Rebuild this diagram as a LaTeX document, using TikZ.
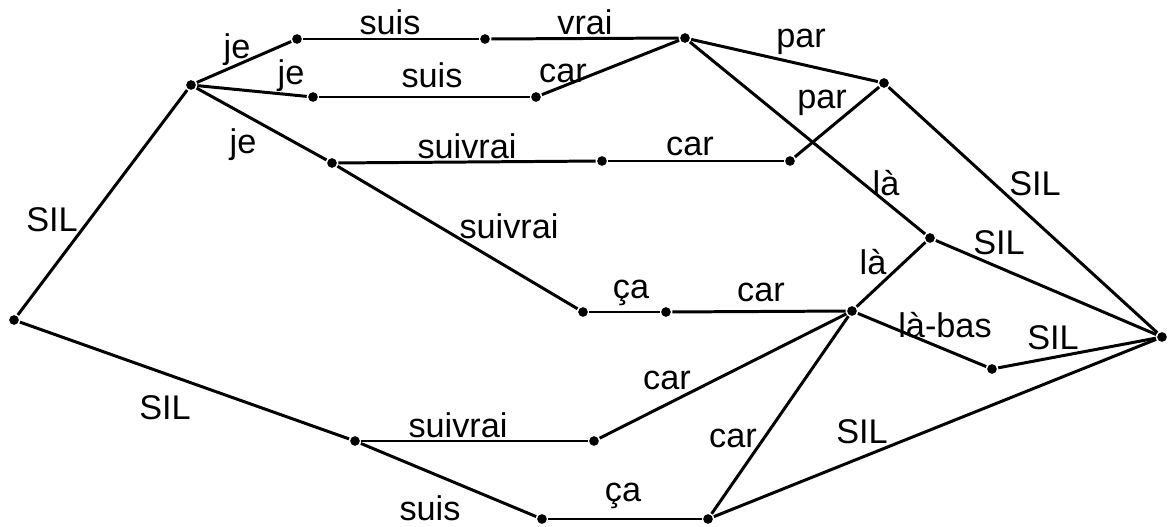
\documentclass[tikz,border=0pt]{standalone}
\usepackage{fontspec}
\setmainfont{Liberation Sans}
\usepackage{tikz}

\begin{document}
\begin{tikzpicture}[x=0.02cm,y=-0.02cm,line width=1.7pt,
        vtx/.style={circle,fill,inner sep=0pt,minimum size=5.5pt},
        lbl/.style={inner sep=0pt,font=\fontsize{19.5}{22}\selectfont}]
        \useasboundingbox (0,0) rectangle (1170,527);
        % Start and end
        \node[vtx] (s) at (14,320) {};
        \node[vtx] (p) at (1162,337) {};
        % Upper paths
        \node[vtx] (a) at (191,85) {};
        \node[vtx] (b) at (297,39) {};
        \node[vtx] (c) at (485,39) {};
        \node[vtx] (d) at (685,38) {};
        \node[vtx] (e) at (313,97) {};
        \node[vtx] (f) at (536,97) {};
        \node[vtx] (g) at (884,83) {};
        \node[vtx] (h) at (332,163) {};
        \node[vtx] (i) at (602,161) {};
        \node[vtx] (j) at (790,161) {};
        % Middle
        \node[vtx] (k) at (930,238) {};
        \node[vtx] (l) at (583,312) {};
        \node[vtx] (m) at (666,312) {};
        \node[vtx] (n) at (852,311) {};
        \node[vtx] (o) at (992,369) {};
        % Lower paths
        \node[vtx] (q) at (355,441) {};
        \node[vtx] (r) at (594,441) {};
        \node[vtx] (t) at (542,519) {};
        \node[vtx] (u) at (708,519) {};
        % Edges
        \draw (s) -- (a);
        \draw (s) -- (q);
        \draw (a) -- (b);
        \draw (a) -- (e);
        \draw (a) -- (h);
        \draw (b) -- (c);
        \draw (c) -- (d);
        \draw (e) -- (f);
        \draw (f) -- (d);
        \draw (d) -- (g);
        \draw (d) -- (k);
        \draw (h) -- (i);
        \draw (i) -- (j);
        \draw (j) -- (g);
        \draw (h) -- (l);
        \draw (l) -- (m);
        \draw (m) -- (n);
        \draw (n) -- (k);
        \draw (n) -- (o);
        \draw (o) -- (p);
        \draw (k) -- (p);
        \draw (g) -- (p);
        \draw (q) -- (r);
        \draw (r) -- (n);
        \draw (q) -- (t);
        \draw (t) -- (u);
        \draw (u) -- (n);
        \draw (u) -- (p);
        % Word labels
        \node[lbl] (sa) at (52,220) {SIL};
        \node[lbl] (sq) at (165,408) {SIL};
        \node[lbl] (ab) at (237,50) {je};
        \node[lbl] (ae) at (291,76) {je};
        \node[lbl] (ah) at (243,145) {je};
        \node[lbl] (bc) at (390,22) {suis};
        \node[lbl] (cd) at (585,22) {vrai};
        \node[lbl] (ef) at (432,75) {suis};
        \node[lbl] (fd) at (563,73) {car};
        \node[lbl] (hi) at (467,146) {suivrai};
        \node[lbl] (ij) at (690,146) {car};
        \node[lbl] (dg) at (801,42) {par};
        \node[lbl] (jg) at (822,103) {par};
        \node[lbl] (dk) at (886,183) {là};
        \node[lbl] (gp) at (1035,184) {SIL};
        \node[lbl] (kp) at (999,243) {SIL};
        \node[lbl] (hl) at (509,226) {suivrai};
        \node[lbl] (nk) at (873,262) {là};
        \node[lbl] (lm) at (631,293) {ça};
        \node[lbl] (mn) at (761,292) {car};
        \node[lbl] (no) at (945,325) {là-bas};
        \node[lbl] (op) at (1053,338) {SIL};
        \node[lbl] (rn) at (667,380) {car};
        \node[lbl] (qr) at (458,425) {suivrai};
        \node[lbl] (un) at (733,438) {car};
        \node[lbl] (up) at (862,432) {SIL};
        \node[lbl] (qt) at (430,508) {suis};
        \node[lbl] (tu) at (623,496) {ça};
    \end{tikzpicture}
\end{document}
